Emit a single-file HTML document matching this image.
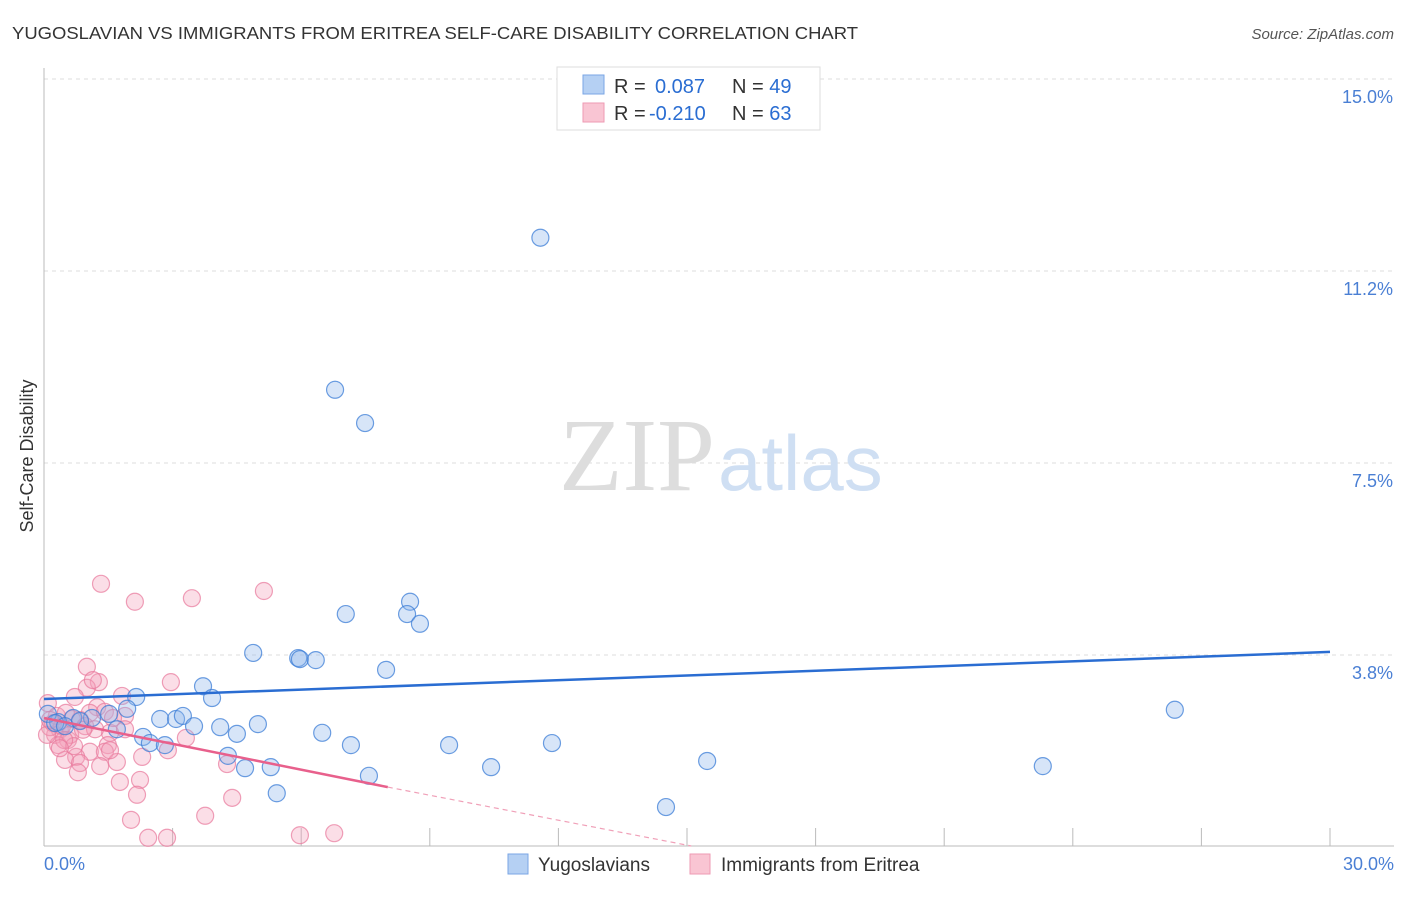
<!DOCTYPE html>
<html><head><meta charset="utf-8"><style>
body{margin:0;background:#fff;font-family:"Liberation Sans",sans-serif}
svg text{font-family:"Liberation Sans",sans-serif}
</style></head><body>
<svg width="1406" height="892">
<text x="12" y="39" font-size="17.5" fill="#333" textLength="846" lengthAdjust="spacingAndGlyphs">YUGOSLAVIAN VS IMMIGRANTS FROM ERITREA SELF-CARE DISABILITY CORRELATION CHART</text>
<text x="1394" y="39" font-size="15" fill="#555" text-anchor="end" font-style="italic">Source: ZipAtlas.com</text>
<g id="grid"></g>
<text x="715" y="490" font-size="104" fill="#ddd" text-anchor="end" style="font-family:'Liberation Serif',serif">ZIP</text>
<text x="718" y="490" font-size="78" fill="#cfdff3">atlas</text>
<g id="pts"></g>
<g id="lines"></g>
<text x="33" y="456" font-size="18" fill="#333" transform="rotate(-90 33 456)" text-anchor="middle">Self-Care Disability</text>
<text x="44" y="870" font-size="18" fill="#4a7fd4">0.0%</text>
<text x="1394" y="870" font-size="18" fill="#4a7fd4" text-anchor="end">30.0%</text>
<g>
<rect x="557" y="67" width="263" height="63" fill="#fff" stroke="#ddd"/>
<rect x="583" y="75" width="21" height="19" fill="#b5d0f3" stroke="#7aa6e4"/>
<rect x="583" y="103" width="21" height="19" fill="#f9c5d3" stroke="#ee9ab3"/>
<text x="614" y="93" font-size="20" fill="#333">R = <tspan x="655" fill="#2a6dd2">0.087</tspan><tspan x="732">N = </tspan><tspan fill="#2a6dd2">49</tspan></text>
<text x="614" y="120" font-size="20" fill="#333">R = <tspan x="649" fill="#2a6dd2">-0.210</tspan><tspan x="732">N = </tspan><tspan fill="#2a6dd2">63</tspan></text>
</g>
<g>
<rect x="508" y="854" width="20" height="20" fill="#b5d0f3" stroke="#7aa6e4"/>
<text x="538" y="871" font-size="19" fill="#333">Yugoslavians</text>
<rect x="690" y="854" width="20" height="20" fill="#f9c5d3" stroke="#ee9ab3"/>
<text x="721" y="871" font-size="19" fill="#333">Immigrants from Eritrea</text>
</g>
</svg>
<script>
const yTicks=[15,11.25,7.5,3.75];
const yTickLabels=["15.0%","11.2%","7.5%","3.8%"];
const xTicks=[3,6,9,12,15,18,21,24,27,30];
const blueX=[11.58,6.79,7.49,8.54,7.04,8.47,8.77,4.88,5.93,5.97,6.34,7.98,3.71,3.92,2.15,1.94,1.52,1.12,0.68,0.33,26.38,2.71,3.08,3.24,4.99,4.11,3.5,1.7,4.5,6.49,2.31,2.47,2.82,7.16,9.45,11.85,4.29,5.29,4.69,10.43,15.47,23.3,7.58,5.43,14.51,0.09,0.26,0.49,0.84];
const blueY=[11.9,8.93,8.28,4.79,4.55,4.55,4.36,3.79,3.69,3.67,3.65,3.46,3.14,2.91,2.93,2.7,2.6,2.52,2.52,2.44,2.68,2.5,2.5,2.56,2.40,2.34,2.36,2.30,2.21,2.23,2.15,2.03,1.99,1.99,1.99,2.03,1.78,1.56,1.54,1.56,1.68,1.58,1.39,1.05,0.78,2.60,2.42,2.36,2.46];
const pinkX=[1.33,2.12,3.45,5.13,1.0,2.96,1.28,1.0,1.14,0.72,1.82,1.24,0.09,1.89,1.07,1.42,0.84,0.37,0.26,0.14,0.56,0.33,0.61,1.54,1.89,1.49,3.31,1.07,1.42,2.89,2.29,1.70,0.75,0.49,0.84,1.31,4.27,0.79,1.77,2.24,2.17,4.39,3.76,2.03,2.43,2.87,5.97,6.77,0.21,0.42,0.65,0.96,1.19,0.30,0.51,1.54,0.07,0.70,0.47,0.91,1.61,0.14,0.37];
const pinkY=[5.14,4.79,4.86,5.0,3.52,3.22,3.22,3.11,3.26,2.93,2.95,2.73,2.81,2.56,2.62,2.64,2.48,2.29,2.19,2.34,2.09,1.99,2.19,2.23,2.30,1.99,2.13,1.86,1.86,1.89,1.76,1.66,1.76,1.70,1.64,1.58,1.62,1.46,1.27,1.31,1.02,0.96,0.61,0.53,0.18,0.18,0.23,0.27,2.42,2.36,2.50,2.36,2.30,2.56,2.62,1.89,2.19,1.97,2.09,2.29,2.52,2.48,1.93];
const blueLine=[[0,2.89],[30,3.81]];
const pinkLine=[[0,2.52],[8.02,1.17]];
const pinkDash=[[8.02,1.17],[15.1,0.02]];
const X=v=>44+v*1286/30, Y=v=>847-v*51.2;
const NS="http://www.w3.org/2000/svg";
const mk=(t,a,p)=>{const e=document.createElementNS(NS,t);for(const k in a)e.setAttribute(k,a[k]);p.appendChild(e);return e;};
const g=document.getElementById('grid');
yTicks.forEach((t,i)=>{
 const l=mk('line',{x1:44,x2:1394,y1:Y(t),y2:Y(t),stroke:'#ddd','stroke-dasharray':'4,4'},g);
 
 
 const tx=mk('text',{x:1393,y:Y(t)+24,'font-size':18,fill:'#4a7fd4','text-anchor':'end'},g);tx.textContent=yTickLabels[i];
 
 
});
const ax=mk('line',{x1:44,x2:44,y1:68,y2:846,stroke:'#bbb'},g);


const bx=mk('line',{x1:44,x2:1394,y1:846,y2:846,stroke:'#bbb'},g);


xTicks.forEach(t=>{const l=mk('line',{x1:X(t),x2:X(t),y1:828,y2:846,stroke:'#bbb'},g);
 
 });
const p=document.getElementById('pts');
pinkX.forEach((v,i)=>{const c=mk('circle',{cx:X(v),cy:Y(pinkY[i]),r:8.5,fill:'rgba(244,160,185,0.35)',stroke:'rgba(232,120,155,0.7)','stroke-width':1.2},p);
 
 });
blueX.forEach((v,i)=>{const c=mk('circle',{cx:X(v),cy:Y(blueY[i]),r:8.5,fill:'rgba(140,180,235,0.35)',stroke:'rgba(60,125,215,0.75)','stroke-width':1.2},p);
 
 });
const L=document.getElementById('lines');
const b=mk('line',{x1:X(blueLine[0][0]),y1:Y(blueLine[0][1]),x2:X(blueLine[1][0]),y2:Y(blueLine[1][1]),stroke:'#2a6dd2','stroke-width':2.5},L);


const pl=mk('line',{x1:X(pinkLine[0][0]),y1:Y(pinkLine[0][1]),x2:X(pinkLine[1][0]),y2:Y(pinkLine[1][1]),stroke:'#e8608c','stroke-width':2.5},L);


const pd=mk('line',{x1:X(pinkDash[0][0]),y1:Y(pinkDash[0][1]),x2:X(pinkDash[1][0]),y2:Y(pinkDash[1][1]),stroke:'#f0a0b8','stroke-width':1.2,'stroke-dasharray':'5,4'},L);


</script>
</body></html>
